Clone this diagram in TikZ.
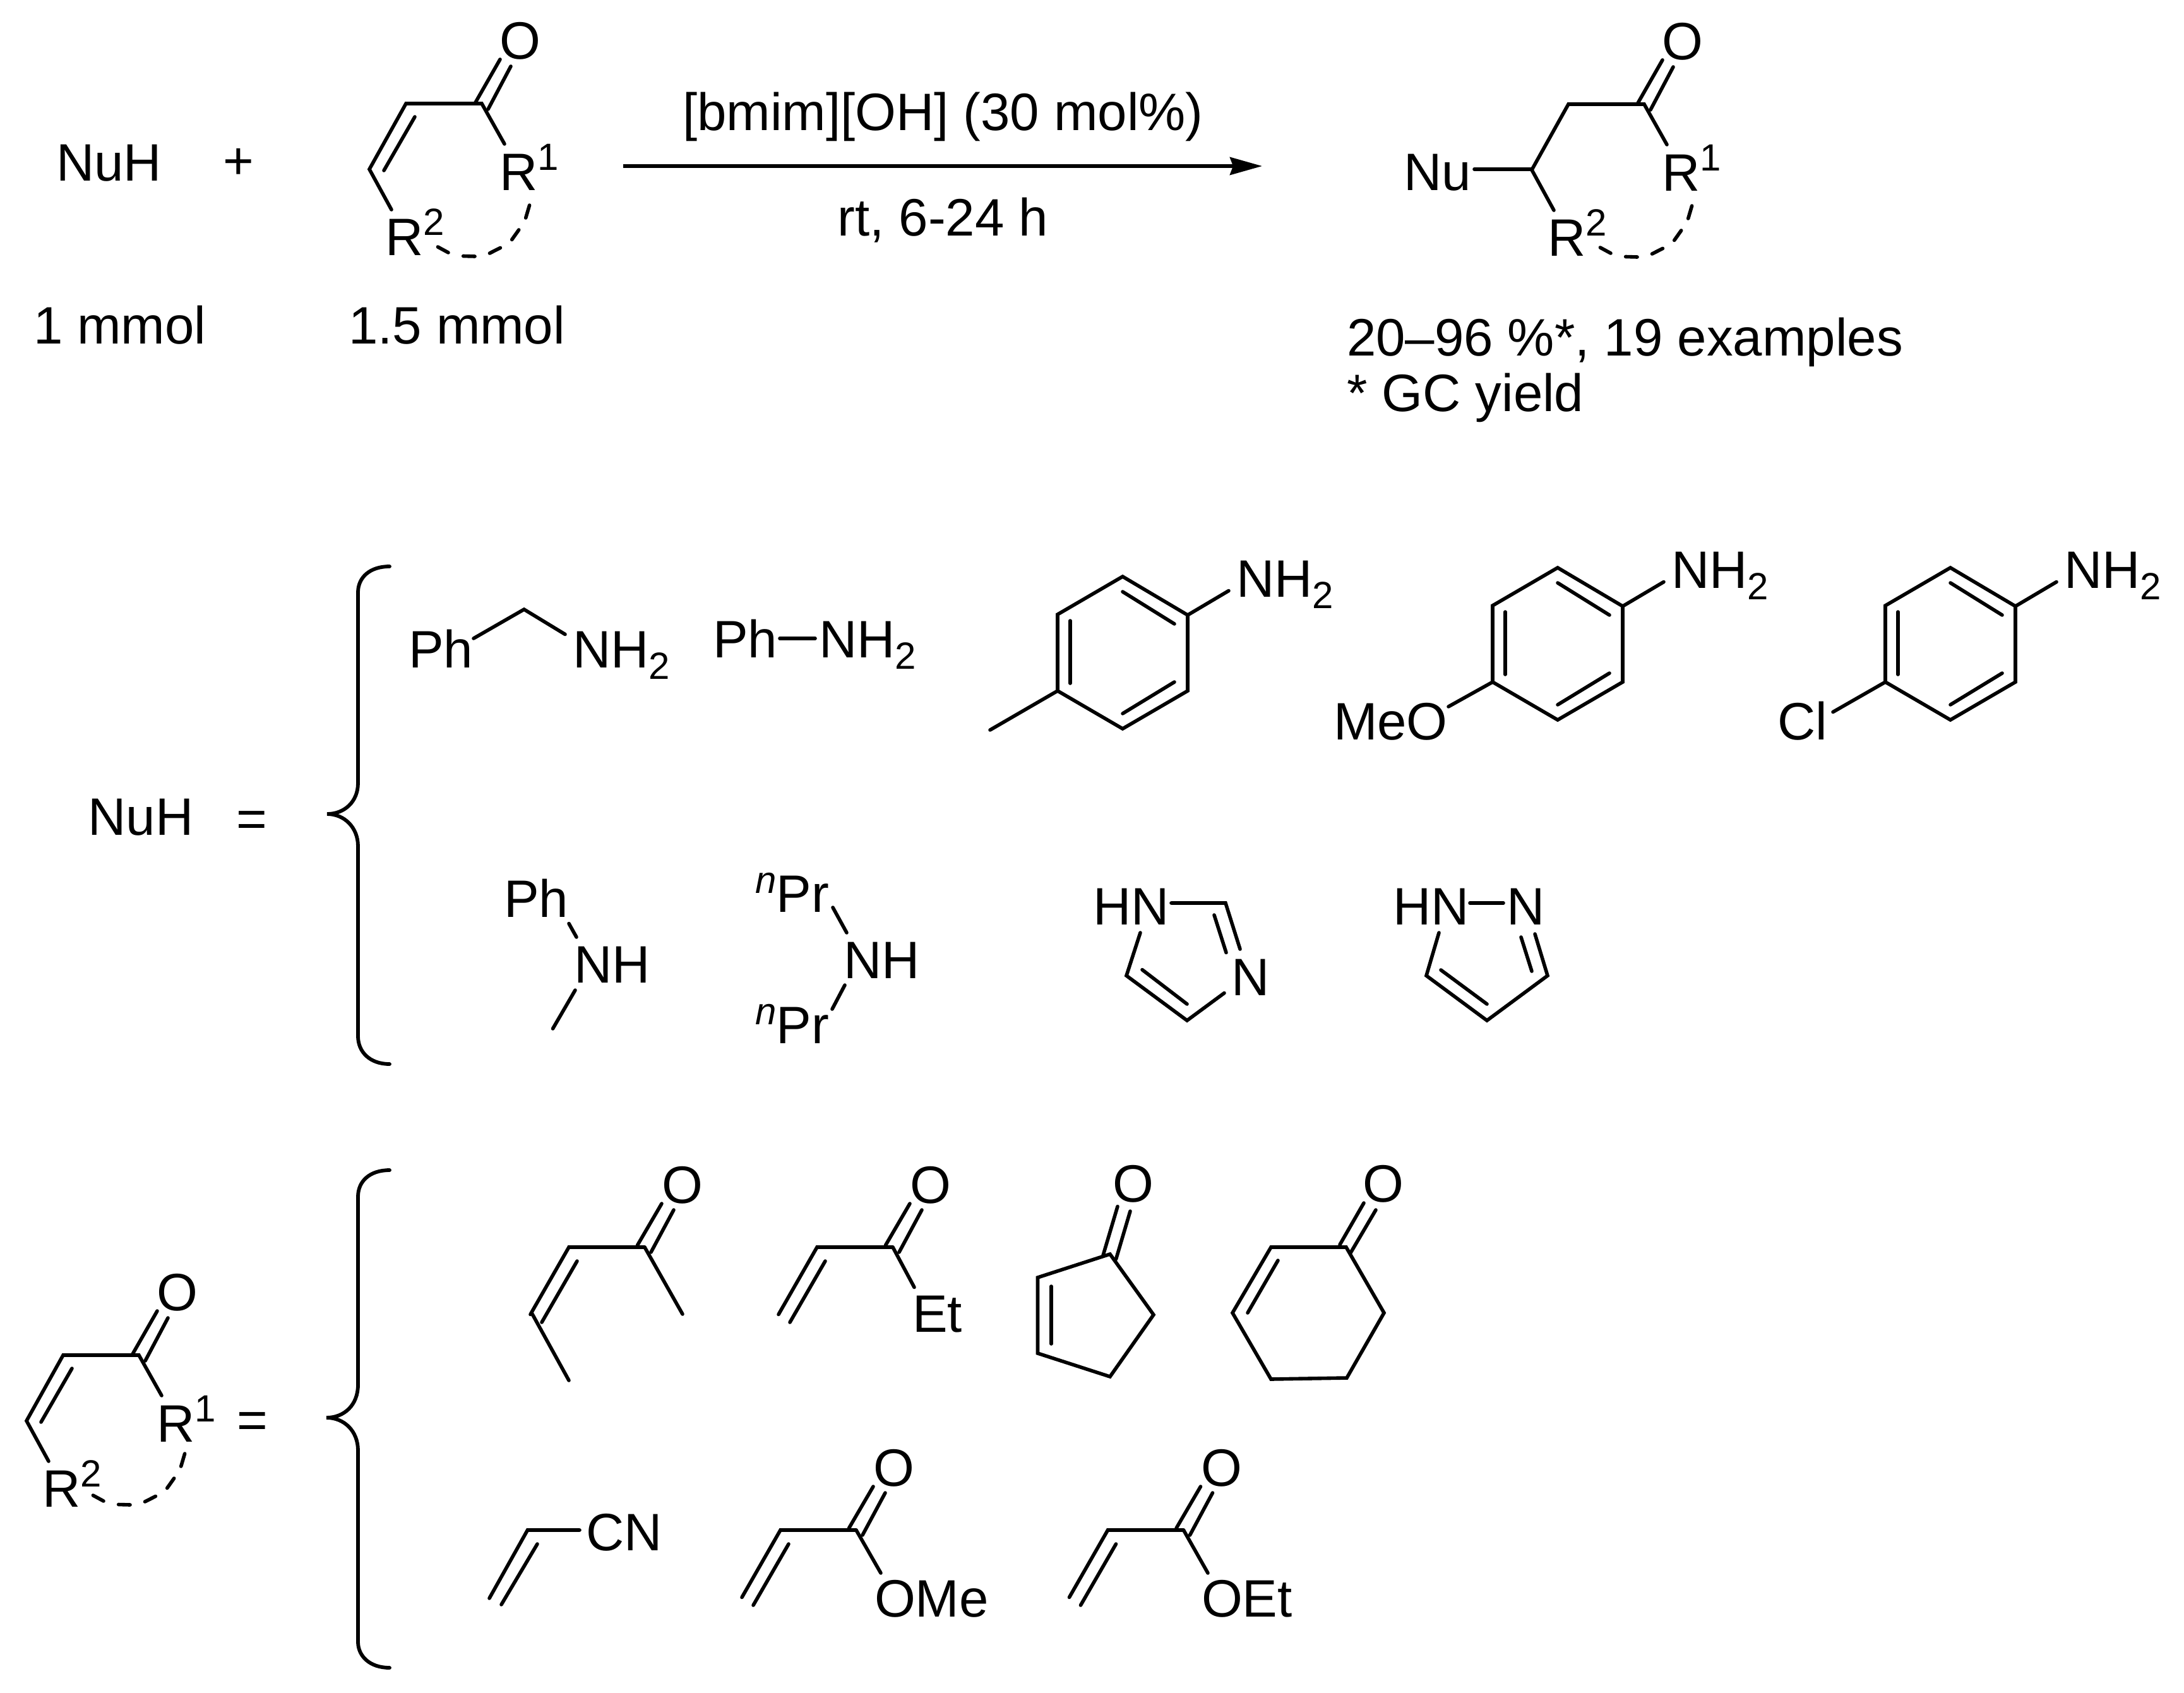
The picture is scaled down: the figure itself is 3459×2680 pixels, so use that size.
\documentclass[tikz,border=0pt]{standalone}
\usepackage{fontspec}
\setmainfont{Liberation Sans}
\usetikzlibrary{arrows.meta}
\newif\ifEnoneDouble \EnoneDoubletrue
\newcommand\lsub[1]{\raisebox{-18.5pt}{\fontsize{60}{60}\selectfont #1}}
\newcommand\lsup[1]{\raisebox{32pt}{\fontsize{60}{60}\selectfont #1}}
\newcommand\lnup{\raisebox{30pt}{\fontsize{60}{60}\selectfont\itshape n}}
% text whose origin is at x,y (baseline)
\newcommand\T[4]{\node[lab] (#1) at (#2,#3) {#4};}
% oxygen, centred on x, glyph centre y
\newcommand\Ox[3]{\node[lab,anchor=base] (#1) at (#2,#3+30) {O};}
% enone with ring closure: #1 prefix, #2 #3 = carbonyl carbon, #4 #5 = shift of dashes
\newcommand\Enone[5]{%
\begin{scope}[shift={(#2,#3)}]
\coordinate (#1a) at (-120,0); \coordinate (#1b) at (0,0); \coordinate (#1c) at (-178,104);
\coordinate (#1r2) at (-143,168); \coordinate (#1r1) at (36,64);
\draw[bond] (#1r2) -- (#1c) -- (#1a) -- (#1b) -- (#1r1);
\ifEnoneDouble\draw[bond] (-106,21) -- (-155,106);\fi
\draw[bond] (-11,0) -- (29,-70);
\draw[bond] (10,9) -- (46,-59);
\Ox{#1O}{61}{-101}
\T{#1Ra}{28.5}{137}{R\lsup{1}}
\T{#1Rb}{-153}{240}{R\lsup{2}}
\begin{scope}[shift={(#4,#5)}]
\draw[bond] (75.6,161) -- (69.7,181);
\draw[bond] (58.7,200) -- (47.7,215.5);
\draw[bond] (29.4,228.5) -- (12.5,237);
\draw[bond] (-11,242) -- (-29.3,241.5);
\draw[bond] (-53,236) -- (-69.6,227);
\end{scope}
\end{scope}}
% para-substituted aniline ring: #1 prefix, #2 #3 = top vertex
\newcommand\Ring[3]{%
\begin{scope}[shift={(#2,#3)}]
\coordinate (#1t) at (0,0); \coordinate (#1ur) at (103,61); \coordinate (#1lr) at (103,181);
\coordinate (#1b) at (0,241); \coordinate (#1ll) at (-103,181); \coordinate (#1ul) at (-103,60);
\coordinate (#1n) at (168,22.5);
\draw[bond] (#1t) -- (#1ur) -- (#1lr) -- (#1b) -- (#1ll) -- (#1ul) -- cycle;
\draw[bond] (0,24) -- (82,75);
\draw[bond] (82,167) -- (0,217);
\draw[bond] (-83,70) -- (-83,169);
\draw[bond] (#1ur) -- (#1n);
\T{#1N}{180}{32}{NH\lsub{2}}
\end{scope}}
% vinyl carbonyl: #1 prefix, #2 #3 = alpha carbon
\newcommand\Vinyl[3]{%
\begin{scope}[shift={(#2,#3)}]
\coordinate (#1a) at (0,0); \coordinate (#1b) at (120,0); \coordinate (#1e) at (-61,106.5);
\draw[bond] (#1e) -- (#1a) -- (#1b);
\draw[bond] (13,22) -- (-43,119);
\draw[bond] (108.5,-3) -- (147,-69);
\draw[bond] (130,8) -- (166,-59);
\Ox{#1O}{180}{-100}
\end{scope}}
\tikzset{
 bond/.style={line width=5.6pt,line cap=round,line join=miter,miter limit=3},
 brace/.style={line width=5.8pt,line cap=round},
 lab/.style={anchor=base west,inner sep=0pt,outer sep=0pt,font=\fontsize{83.4}{100}\selectfont,text=black}
}
\begin{document}
\begin{tikzpicture}[x=1pt,y=-1pt]
\useasboundingbox (0,0) rectangle (3459,2680);
\fill[white] (0,0) rectangle (3459,2680);

% --- reaction line
\T{nuh}{89}{286}{NuH}
\node[lab,anchor=base] (plus) at (378,283) {+};
\Enone{e}{763}{164}{0}{0}
\T{mm}{53}{544}{1 mmol}
\T{mmb}{552}{544}{1.5 mmol}
\coordinate (arrS) at (987,263); \coordinate (arrE) at (1999,263);
\draw[line width=5.6pt,miter limit=10,-{Stealth[length=51pt,width=28pt,inset=5pt]}] (arrS) -- (arrE);
\T{cat}{1081}{206}{[bmim][OH] (30 mol\%)}
\T{cond}{1326.5}{373}{rt, 6-24 h}
\EnoneDoublefalse
\Enone{p}{2604}{165}{0}{0}
\EnoneDoubletrue
\coordinate (pc) at (2426,268); \coordinate (pnu) at (2335,268);
\draw[bond] (pc) -- (pnu);
\T{nu}{2223}{301}{Nu}
\T{yield}{2133}{563}{20–96 \%*, 19 examples}
\T{gc}{2133}{651}{* GC yield}

% --- NuH list
\T{nuhb}{139.5}{1322}{NuH}
\node[lab,anchor=base] (eqa) at (399,1325) {=};
\coordinate (bra) at (617,897); \coordinate (brb) at (518,1289); \coordinate (brc) at (617,1685);
\draw[brace] (bra) .. controls (585,897) and (567,915) .. (567,938) -- (567,1240)
  .. controls (567,1270) and (545,1289) .. (brb)
  .. controls (545,1289) and (567,1310) .. (567,1340) -- (567,1641)
  .. controls (567,1665) and (585,1685) .. (brc);

% benzylamine
\T{bnph}{647}{1057}{Ph}
\T{bnn}{907}{1057}{NH\lsub{2}}
\coordinate (bn1) at (750,1011); \coordinate (bn2) at (830,965); \coordinate (bn3) at (895,1004.5);
\draw[bond] (bn1) -- (bn2) -- (bn3);
% aniline
\T{anph}{1129}{1041}{Ph}
\T{ann}{1297}{1041}{NH\lsub{2}}
\draw[bond] (1235,1011) -- (1291,1011);
% toluidine
\Ring{t}{1778}{913}
\coordinate (tme) at (1568,1156);
\draw[bond] (tll) -- (tme);
% anisidine
\Ring{m}{2467}{899}
\coordinate (mo) at (2294,1119);
\draw[bond] (mll) -- (mo);
\T{meo}{2112}{1171}{MeO}
% chloroaniline
\Ring{c}{3089}{899}
\coordinate (cco) at (2903,1127.5);
\draw[bond] (cll) -- (cco);
\T{cl}{2815}{1171}{Cl}
% N-methylaniline
\T{maph}{798}{1452}{Ph}
\T{man}{909}{1556}{NH}
\draw[bond] (901,1462.5) -- (913,1484);
\draw[bond] (911,1568) -- (875.5,1629);
% dipropylamine
\T{pra}{1196}{1444.6}{\lnup Pr}
\T{prb}{1196}{1652}{\lnup Pr}
\T{prn}{1336}{1549}{NH}
\draw[bond] (1319,1437) -- (1341,1477);
\draw[bond] (1338,1560) -- (1318,1598);
% imidazole
\T{imh}{1731}{1464}{HN}
\T{imn}{1950}{1576}{N}
\coordinate (im1) at (1855,1430); \coordinate (im2) at (1941,1430); \coordinate (im3) at (1964,1503);
\coordinate (im4) at (1939,1572.5); \coordinate (im5) at (1880,1616); \coordinate (im6) at (1784,1545); \coordinate (im7) at (1806,1477);
\draw[bond] (im1) -- (im2) -- (im3);
\draw[bond] (im4) -- (im5) -- (im6) -- (im7);
\draw[bond] (1923,1449) -- (1942,1508.5);
\draw[bond] (1809,1535.6) -- (1880,1590);
% pyrazole
\T{pzh}{2206}{1464}{HN}
\T{pzn}{2386.6}{1464}{N}
\coordinate (pz1) at (2431,1479); \coordinate (pz2) at (2451,1545); \coordinate (pz3) at (2355,1616); \coordinate (pz4) at (2259,1545); \coordinate (pz5) at (2279,1477);
\draw[bond] (2328,1430) -- (2381,1430);
\draw[bond] (pz1) -- (pz2) -- (pz3) -- (pz4) -- (pz5);
\draw[bond] (2409,1484) -- (2426,1538);
\draw[bond] (2282,1536) -- (2355,1590);

% --- enone list
\Enone{g}{220}{2146}{-3}{-5}
\node[lab,anchor=base] (eqb) at (400,2277) {=};
\coordinate (bsa) at (617,1853); \coordinate (bsb) at (517,2245); \coordinate (bsc) at (617,2641);
\draw[brace] (bsa) .. controls (585,1853) and (567,1871) .. (567,1895) -- (567,2193)
  .. controls (567,2225) and (545,2245) .. (bsb)
  .. controls (545,2245) and (567,2266) .. (567,2297) -- (567,2600)
  .. controls (567,2622) and (585,2641) .. (bsc);

% pentenone
\Vinyl{k}{901}{1975}
\coordinate (kl) at (901,2186); \coordinate (km) at (1081,2081); \coordinate (kc) at (842,2079);
\draw[bond] (kc) -- (kl);
\draw[bond] (kb) -- (km);
% ethyl vinyl ketone
\Vinyl{v}{1294}{1975}
\coordinate (vet) at (1448,2038.5);
\draw[bond] (vb) -- (vet);
\T{et}{1445}{2109}{Et}
% cyclopentenone
\coordinate (cp1) at (1758,1986); \coordinate (cp2) at (1827,2082); \coordinate (cp3) at (1758,2180);
\coordinate (cp4) at (1643.5,2143); \coordinate (cp5) at (1643.5,2023);
\draw[bond] (cp1) -- (cp2) -- (cp3) -- (cp4) -- (cp5) -- cycle;
\draw[bond] (1665,2037) -- (1665,2128);
\draw[bond] (1747,1988) -- (1770,1910.5);
\draw[bond] (1767.5,1994) -- (1790,1918);
\Ox{cpO}{1795}{1873}
% cyclohexenone
\coordinate (ch1) at (2132,1975); \coordinate (ch2) at (2013,1975); \coordinate (ch3) at (1952,2079);
\coordinate (ch4) at (2013,2184); \coordinate (ch5) at (2133,2182); \coordinate (ch6) at (2192,2079);
\draw[bond] (ch1) -- (ch2) -- (ch3) -- (ch4) -- (ch5) -- (ch6) -- cycle;
\draw[bond] (2024,1996) -- (1976,2079);
\draw[bond] (2122,1971) -- (2160,1905);
\draw[bond] (2139,1984) -- (2179,1916);
\Ox{chO}{2190.5}{1873}
% acrylonitrile
\coordinate (an1) at (918,2423); \coordinate (an2) at (835.5,2423); \coordinate (an3) at (775,2531);
\draw[bond] (an1) -- (an2) -- (an3);
\draw[bond] (851,2445) -- (794,2541);
\T{cn}{928}{2455}{CN}
% methyl acrylate
\Vinyl{w}{1236}{2423}
\coordinate (wo) at (1395,2491);
\draw[bond] (wb) -- (wo);
\T{ome}{1385}{2560}{OMe}
% ethyl acrylate
\Vinyl{x}{1754.5}{2423}
\coordinate (xo) at (1913,2491);
\draw[bond] (xb) -- (xo);
\T{oet}{1903}{2560}{OEt}
\end{tikzpicture}
\end{document}
